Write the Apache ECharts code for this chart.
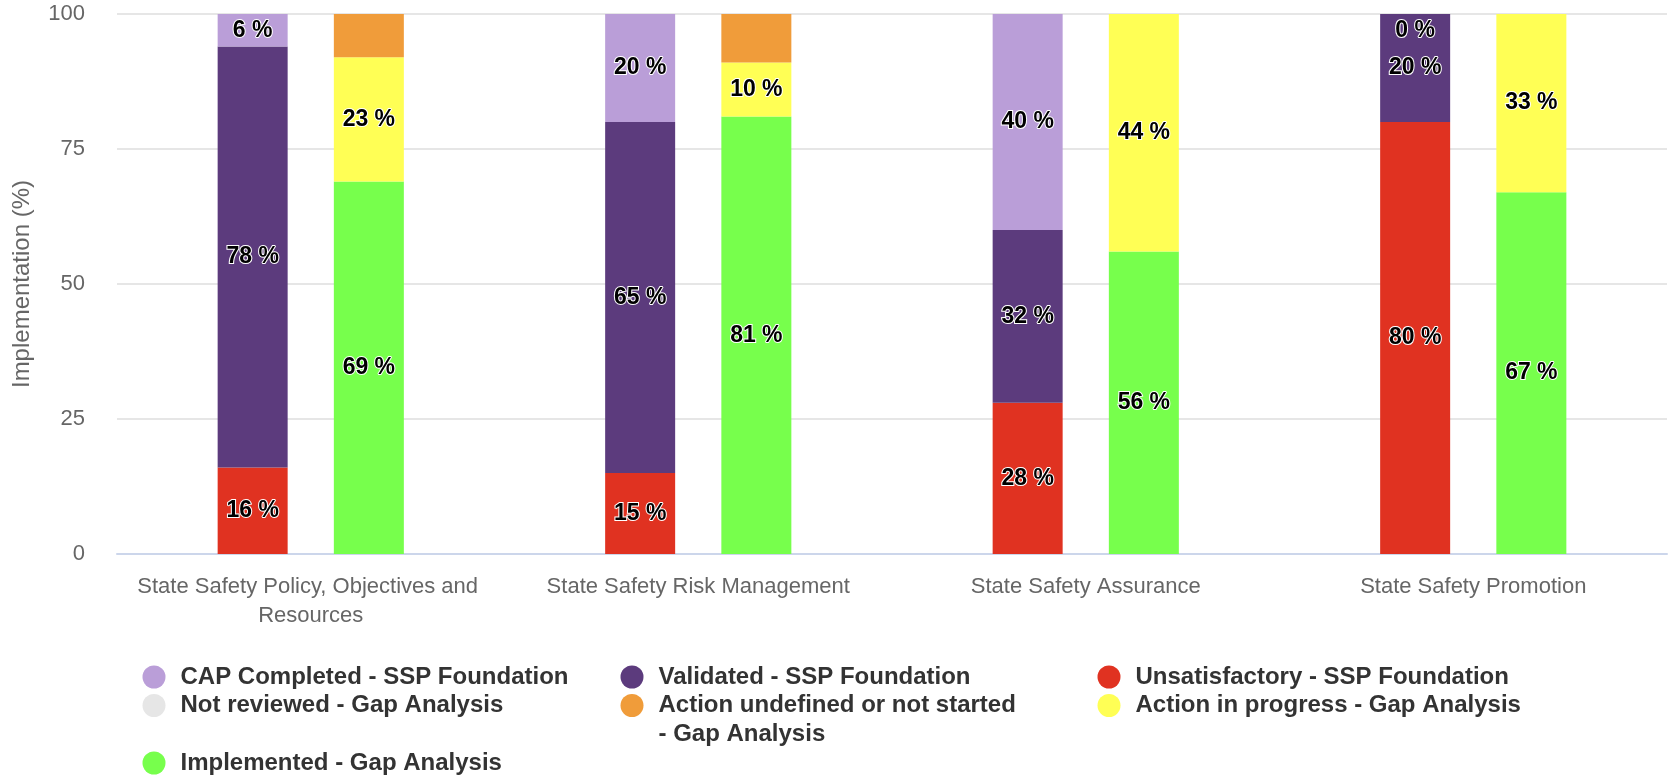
<!DOCTYPE html>
<html>
<head>
<meta charset="utf-8">
<script src="https://cdn.jsdelivr.net/npm/echarts@6/dist/echarts.min.js"></script>
<style>
html,body{margin:0;padding:0;background:#fff;}
#chart{width:1669px;height:776px;}
</style>
</head>
<body>
<div id="chart"></div>
<script>
const categories = ['State Safety Policy, Objectives and Resources', 'State Safety Risk Management', 'State Safety Assurance', 'State Safety Promotion'];
const yTicks = [0, 25, 50, 75, 100];
// SSP Foundation stack
const unsatisfactory = [16, 15, 28, 80];
const validated = [78, 65, 32, 20];
const capCompleted = [6, 20, 40, 0];
// Gap Analysis stack
const implemented = [69, 81, 56, 67];
const inProgress = [23, 10, 44, 33];
const actionUndefined = [8, 9, 0, 0];
const notReviewed = [0, 0, 0, 0];

const seriesDefs = [
  {name: 'Unsatisfactory - SSP Foundation', stack: 'ssp', data: unsatisfactory, color: '#E03221', label: true},
  {name: 'Validated - SSP Foundation', stack: 'ssp', data: validated, color: '#5C3B7D', label: true},
  {name: 'CAP Completed - SSP Foundation', stack: 'ssp', data: capCompleted, color: '#BA9ED8', label: true},
  {name: 'Implemented - Gap Analysis', stack: 'gap', data: implemented, color: '#77FF4C', label: true},
  {name: 'Action in progress - Gap Analysis', stack: 'gap', data: inProgress, color: '#FFFF55', label: true},
  {name: 'Action undefined or not started - Gap Analysis', stack: 'gap', data: actionUndefined, color: '#F09C3A', label: false},
  {name: 'Not reviewed - Gap Analysis', stack: 'gap', data: notReviewed, color: '#E6E6E6', label: false}
];

const labelStyle = {
  show: true,
  position: 'inside',
  formatter: '{c} %',
  color: '#000',
  fontSize: 23,
  fontWeight: 'bold',
  fontFamily: '"Liberation Sans", Arial, Helvetica, sans-serif',
  textBorderColor: '#fff',
  textBorderWidth: 2
};

const series = seriesDefs.map(d => ({
  name: d.name,
  type: 'bar',
  stack: d.stack,
  barWidth: 70,
  barGap: '66%',
  itemStyle: {color: d.color},
  label: d.label ? labelStyle : {show: false},
  data: d.data.map(v => (d.label && v === 0) ? {value: v, label: {position: 'insideTop'}} : v)
}));

// Legend layout: [name, iconCenterX, iconCenterY, wrapped]
const legendItems = [
  ['CAP Completed - SSP Foundation', 154, 677, false],
  ['Validated - SSP Foundation', 632, 677, false],
  ['Unsatisfactory - SSP Foundation', 1109, 677, false],
  ['Not reviewed - Gap Analysis', 154, 705.5, false],
  ['Action undefined or not started - Gap Analysis', 632, 705.5, true],
  ['Action in progress - Gap Analysis', 1109, 705.5, false],
  ['Implemented - Gap Analysis', 154, 763, false]
];
const ICON = 23, LH = 29;
const legends = legendItems.map(([name, cx, cy, wrapped]) => ({
  data: [name],
  orient: 'horizontal',
  left: cx - ICON / 2,
  top: wrapped ? cy - (LH * 3) / 2 : cy - LH / 2,
  padding: 0,
  itemWidth: ICON,
  itemHeight: ICON,
  icon: 'circle',
  selectedMode: false,
  formatter: wrapped ? ' \nAction undefined or not started\n- Gap Analysis' : '{name}',
  textStyle: {
    color: '#333333',
    fontSize: 24,
    fontWeight: 'bold',
    fontFamily: '"Liberation Sans", Arial, Helvetica, sans-serif',
    lineHeight: LH,
    padding: [0, 0, 0, 10]
  }
}));

const chart = echarts.init(document.getElementById('chart'), null, {renderer: 'canvas'});
chart.setOption({
  animation: false,
  backgroundColor: '#ffffff',
  textStyle: {fontFamily: '"Liberation Sans", Arial, Helvetica, sans-serif'},
  grid: {left: 117, right: 2, top: 14, bottom: 222, containLabel: false},
  legend: legends,
  xAxis: {
    type: 'category',
    data: categories,
    axisLine: {show: true, lineStyle: {color: '#CCD6EB', width: 2}},
    axisTick: {show: false},
    axisLabel: {
      color: '#666666',
      fontSize: 22,
      lineHeight: 29,
      margin: 18,
      width: 375,
      overflow: 'break',
      interval: 0
    }
  },
  yAxis: {
    type: 'value',
    min: yTicks[0],
    max: yTicks[yTicks.length - 1],
    interval: yTicks[1] - yTicks[0],
    name: 'Implementation (%)',
    nameLocation: 'middle',
    nameGap: 83,
    nameTextStyle: {color: '#666666', fontSize: 24, lineHeight: 24},
    axisLine: {show: false},
    axisTick: {show: false},
    axisLabel: {color: '#666666', fontSize: 22, margin: 32, padding: [9, 0, 0, 0]},
    splitLine: {lineStyle: {color: '#E6E6E6', width: 2}}
  },
  series: series
});
</script>
</body>
</html>
